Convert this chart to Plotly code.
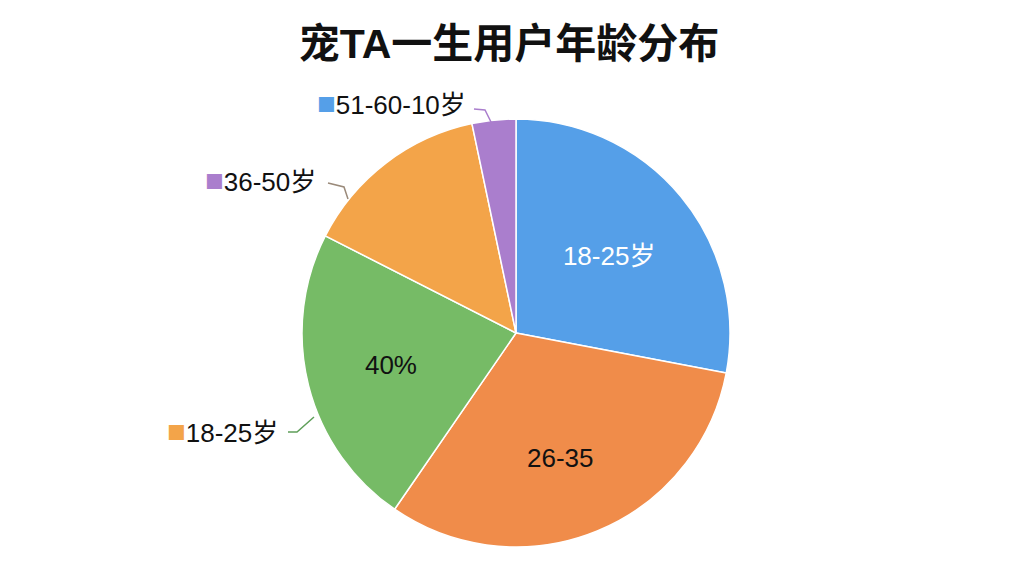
import plotly.graph_objects as go

# age groups, clockwise from 12 o'clock
labels = ['18-25岁', '26-35', '40%', '36-50岁', '51-60-10岁']
values = [28.0, 31.6, 22.9, 14.2, 3.3]
colors = ['#559fe8', '#f08c4a', '#76bb66', '#f3a449', '#aa7ecd']
inside_text = ['18-25岁', '&nbsp;<br>26-35', '40%', '', '']
text_pos = ['inside', 'inside', 'inside', 'none', 'none']
text_colors = ['white', '#111111', '#111111', '#111111', '#111111']

# outside callouts: (text, marker colour, leader colour)
callouts = [
    ('51-60-10岁', '#559fe8', '#aa7ecd'),
    ('36-50岁', '#aa7ecd', '#9a8a7a'),
    ('18-25岁', '#f3a449', '#5f9f5a'),
]

FONT = 'Liberation Sans, Arial, Noto Sans CJK SC, sans-serif'
OFF = 8  # page body margin


def px(x, y):
    return (x - OFF) / 1024, 1 - (y - OFF) / 576


cx, cy, r = 516, 333, 214
x0, y0 = px(cx - r, cy + r)
x1, y1 = px(cx + r, cy - r)

fig = go.Figure()
fig.add_trace(go.Pie(
    labels=labels,
    values=values,
    text=inside_text,
    textinfo='text',
    textposition=text_pos,
    insidetextorientation='horizontal',
    insidetextfont=dict(color=text_colors, size=26, family=FONT),
    marker=dict(colors=colors, line=dict(color='white', width=1.5)),
    sort=False,
    direction='clockwise',
    rotation=0,
    showlegend=False,
    hoverinfo='label+percent',
    domain=dict(x=[x0, x1], y=[y0, y1]),
))

# callout label positions (page px) and leader paths
label_xy = [(315, 104), (203, 180), (165, 431)]
leaders = [
    [(474, 109), (485, 110), (492, 124)],
    [(328, 183), (344, 187), (348, 199)],
    [(288, 432), (297, 432), (314, 417)],
]

for (txt, mcol, lcol), (lx, ly), pts in zip(callouts, label_xy, leaders):
    ax, ay = px(lx, ly)
    fig.add_annotation(
        x=ax, y=ay, xref='paper', yref='paper',
        xanchor='left', yanchor='middle', showarrow=False,
        text="<span style='color:%s;font-size:31px'>■</span>%s" % (mcol, txt),
        font=dict(size=26, color='#111111', family=FONT),
    )
    path = ''
    for i, (x, y) in enumerate(pts):
        xx, yy = px(x, y)
        path += ('M' if i == 0 else 'L') + ' %f %f ' % (xx, yy)
    fig.add_shape(type='path', path=path, xref='paper', yref='paper',
                  line=dict(color=lcol, width=1.5))

tx, ty = px(509, 44)
fig.update_layout(
    title=dict(text='<b>宠TA一生用户年龄分布</b>', x=tx, xanchor='center',
               y=ty, yanchor='middle',
               font=dict(size=41, color='#111111', family=FONT)),
    width=1024, height=576,
    margin=dict(l=0, r=0, t=0, b=0),
    paper_bgcolor='white', plot_bgcolor='white',
)
fig.write_html('out.html')
